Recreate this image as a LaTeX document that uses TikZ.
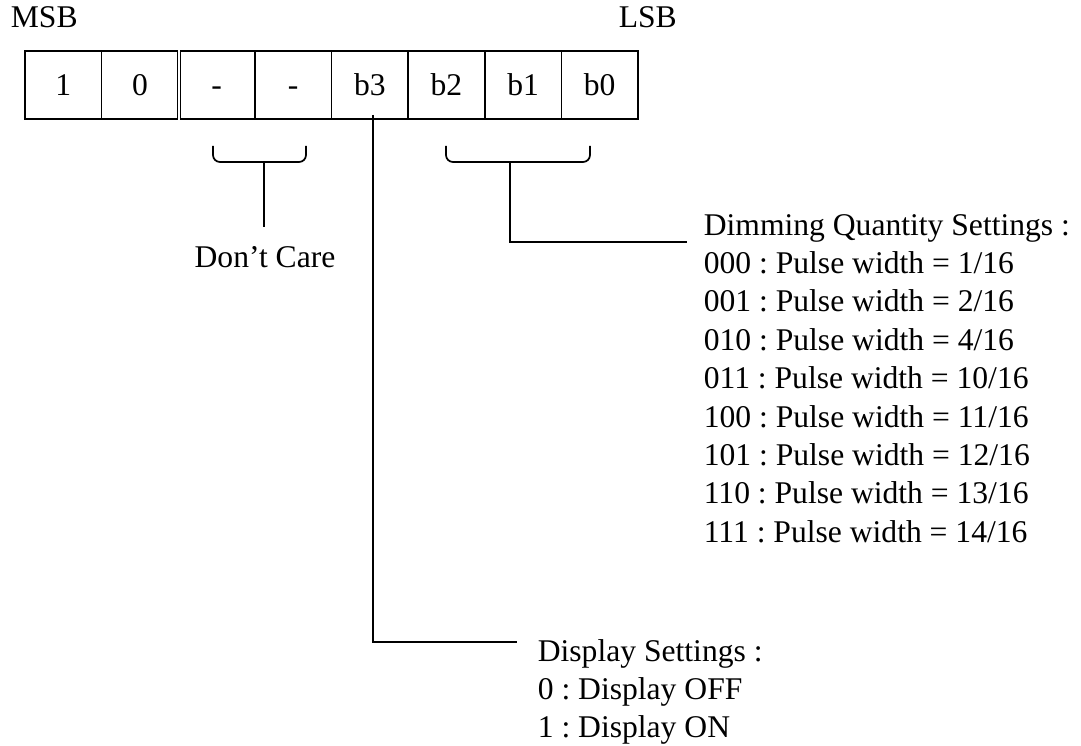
\documentclass[tikz,border=0pt]{standalone}
\usepackage{fontspec}
\setmainfont{Liberation Serif}
\newcommand\diagfont{\fontsize{31.6}{38.4}\selectfont\frenchspacing}
\frenchspacing
\begin{document}
\begin{tikzpicture}[x=1pt,y=-1pt,line width=1.7pt,
  cell/.style={draw, minimum width=76.6pt, minimum height=68pt, inner sep=0pt,
    text height=22pt, text depth=0pt, font=\diagfont},
  lbl/.style={inner sep=0pt, anchor=base west, font=\diagfont},
  clbl/.style={inner sep=0pt, anchor=base, font=\diagfont},
  brace/.style={rounded corners=7pt}]
\useasboundingbox (0,0) rectangle (1081,746);
% register cells
\foreach \t/\n [count=\i from 0] in {1/c7,0/c6,-/c5,-/c4,b3/b3,b2/b2,b1/b1,b0/b0}{
  \node[cell] (\n) at ({25+76.625*(\i+0.5)},85) {\t};
}
\draw[double, double distance=1.2pt, line width=1pt] (c6.north east) -- (c6.south east);
\node[lbl] (msb) at (10,28) {MSB};
\node[lbl] (lsb) at (618,28) {LSB};
% don't care bracket
\coordinate (lbl1) at (213,146);
\coordinate (lbr1) at (306,146);
\coordinate (lbm) at (264,162);
\coordinate (lbe) at (264,227);
\draw[brace] (lbl1) -- ++(0,16) -- ++(93,0) -- (lbr1);
\draw (lbm) -- (lbe);
\node[clbl] (dc) at (265,267) {Don’t Care};
% dimming bracket
\coordinate (rbl) at (446,146);
\coordinate (rbr) at (590,146);
\coordinate (rbm) at (510,162);
\coordinate (dimend) at (687,242);
\draw[brace] (rbl) -- ++(0,16) -- ++(144,0) -- (rbr);
\draw (rbm) |- (dimend);
\foreach \t [count=\k from 0] in {Dimming Quantity Settings :,
  000 : Pulse width = 1/16, 001 : Pulse width = 2/16, 010 : Pulse width = 4/16,
  011 : Pulse width = 10/16, 100 : Pulse width = 11/16, 101 : Pulse width = 12/16,
  110 : Pulse width = 13/16, 111 : Pulse width = 14/16}{
  \node[lbl] (dim\k) at (703,{235+38.4*\k}) {\t};
}
% display settings
\coordinate (b3top) at (373,115);
\coordinate (dispend) at (517,642);
\draw (b3top) |- (dispend);
\node[lbl] (disp0) at (537,661) {Display Settings :};
\node[lbl] (disp1) at (537,699) {0 : Display OFF};
\node[lbl] (disp2) at (537,737) {1 : Display ON};
\end{tikzpicture}
\end{document}
